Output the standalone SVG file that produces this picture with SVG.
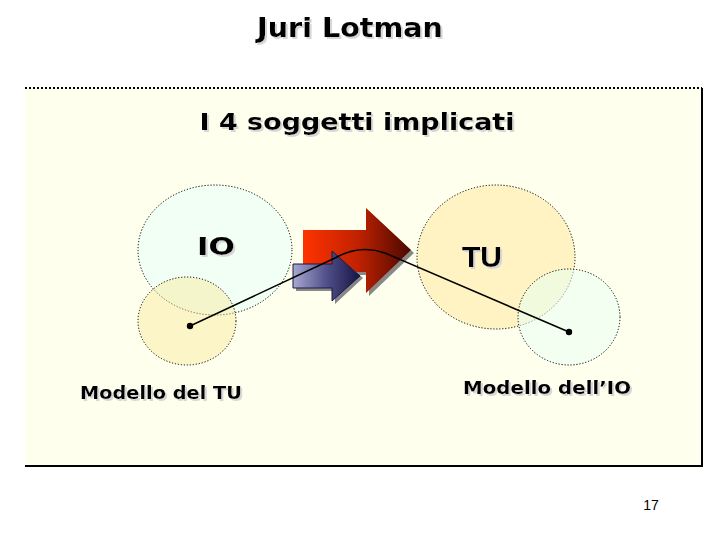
<svg xmlns="http://www.w3.org/2000/svg" width="720" height="540" viewBox="0 0 720 540">
<defs>
<style>
.t{font-family:"DejaVu Sans",Verdana,sans-serif;font-weight:bold;fill:#000;filter:url(#ts)}
.c{stroke:#000;stroke-width:1;stroke-dasharray:1.2 1.8}
</style>
<filter id="ts" x="-10%" y="-30%" width="130%" height="160%">
<feOffset in="SourceAlpha" dx="2" dy="2" result="o"/>
<feColorMatrix in="o" type="matrix" values="0 0 0 0 0.68  0 0 0 0 0.68  0 0 0 0 0.68  0 0 0 1 0" result="g"/>
<feMerge><feMergeNode in="g"/><feMergeNode in="SourceGraphic"/></feMerge>
</filter>
<linearGradient id="red" x1="0" y1="0" x2="1" y2="0">
<stop offset="0" stop-color="#ff3300"/><stop offset="0.5" stop-color="#c22200"/><stop offset="1" stop-color="#4a0800"/>
</linearGradient>
<linearGradient id="blue" x1="0" y1="0" x2="1" y2="0">
<stop offset="0" stop-color="#a8a8d0"/><stop offset="0.5" stop-color="#50508a"/><stop offset="1" stop-color="#151545"/>
</linearGradient>
</defs>
<rect width="720" height="540" fill="#fff"/>
<g id="panel">
<rect x="25" y="88" width="677" height="378" fill="#ffffee"/>
<line x1="25" y1="88" x2="702" y2="88" stroke="#000" stroke-width="2" stroke-dasharray="2 2"/>
<polyline points="702,88 702,466 25,466" fill="none" stroke="#000" stroke-width="2"/>
</g>
<g id="title"><text class="t" x="350" y="37" font-size="27" text-anchor="middle" textLength="186" lengthAdjust="spacingAndGlyphs">Juri Lotman</text></g>
<g id="subtitle"><text class="t" x="357" y="130" font-size="23" text-anchor="middle" textLength="315" lengthAdjust="spacingAndGlyphs">I 4 soggetti implicati</text></g>
<g id="io-circle"><ellipse class="c" cx="215" cy="250" rx="77" ry="65" fill="#f0fff4" fill-opacity="0.85"/></g>
<g id="tu-model-circle"><ellipse class="c" cx="187" cy="321" rx="49" ry="44" fill="#f8e89a" fill-opacity="0.45"/></g>
<g id="tu-circle"><ellipse class="c" cx="496" cy="257" rx="79" ry="72" fill="#fff2c0" fill-opacity="0.95"/></g>
<g id="io-model-circle"><ellipse class="c" cx="569" cy="317" rx="51" ry="48" fill="#e8fff4" fill-opacity="0.55"/></g>
<g id="io-label"><text class="t" x="216" y="255" font-size="24" text-anchor="middle" textLength="38" lengthAdjust="spacingAndGlyphs">IO</text></g>
<g id="tu-label"><text class="t" x="482" y="267" font-size="30" text-anchor="middle" style="font-family:'Liberation Sans',Arial,sans-serif">TU</text></g>
<g id="red-arrow">
<polygon points="306,233 369,233 369,211 414,253 369,296 369,275 306,275" fill="#888"/>
<polygon points="303,230 366,230 366,208 411,250 366,293 366,272 303,272" fill="url(#red)"/>
</g>
<g id="blue-arrow">
<polygon points="296,267 335,267 335,254 363,278 335,304 335,291 296,291" fill="#888"/>
<polygon points="293,264 332,264 332,251 360,276 332,301 332,288 293,288" fill="url(#blue)" stroke="#1a1a40" stroke-width="1"/>
</g>
<g id="connectors">
<path d="M190,326 L335,258 Q360,244 385,253 L569,332" fill="none" stroke="#000" stroke-width="1.5"/>
<circle cx="190" cy="326" r="3.2" fill="#000"/>
<circle cx="569" cy="332" r="3.2" fill="#000"/>
</g>
<g id="labels">
<text class="t" x="161" y="399" font-size="18" text-anchor="middle" textLength="162" lengthAdjust="spacingAndGlyphs">Modello del TU</text>
<text class="t" x="547" y="394" font-size="18" text-anchor="middle" textLength="168" lengthAdjust="spacingAndGlyphs">Modello dell’IO</text>
</g>
<text x="651" y="510" font-size="14" text-anchor="middle" font-family="'Liberation Sans',Arial,sans-serif" fill="#000">17</text>
</svg>
